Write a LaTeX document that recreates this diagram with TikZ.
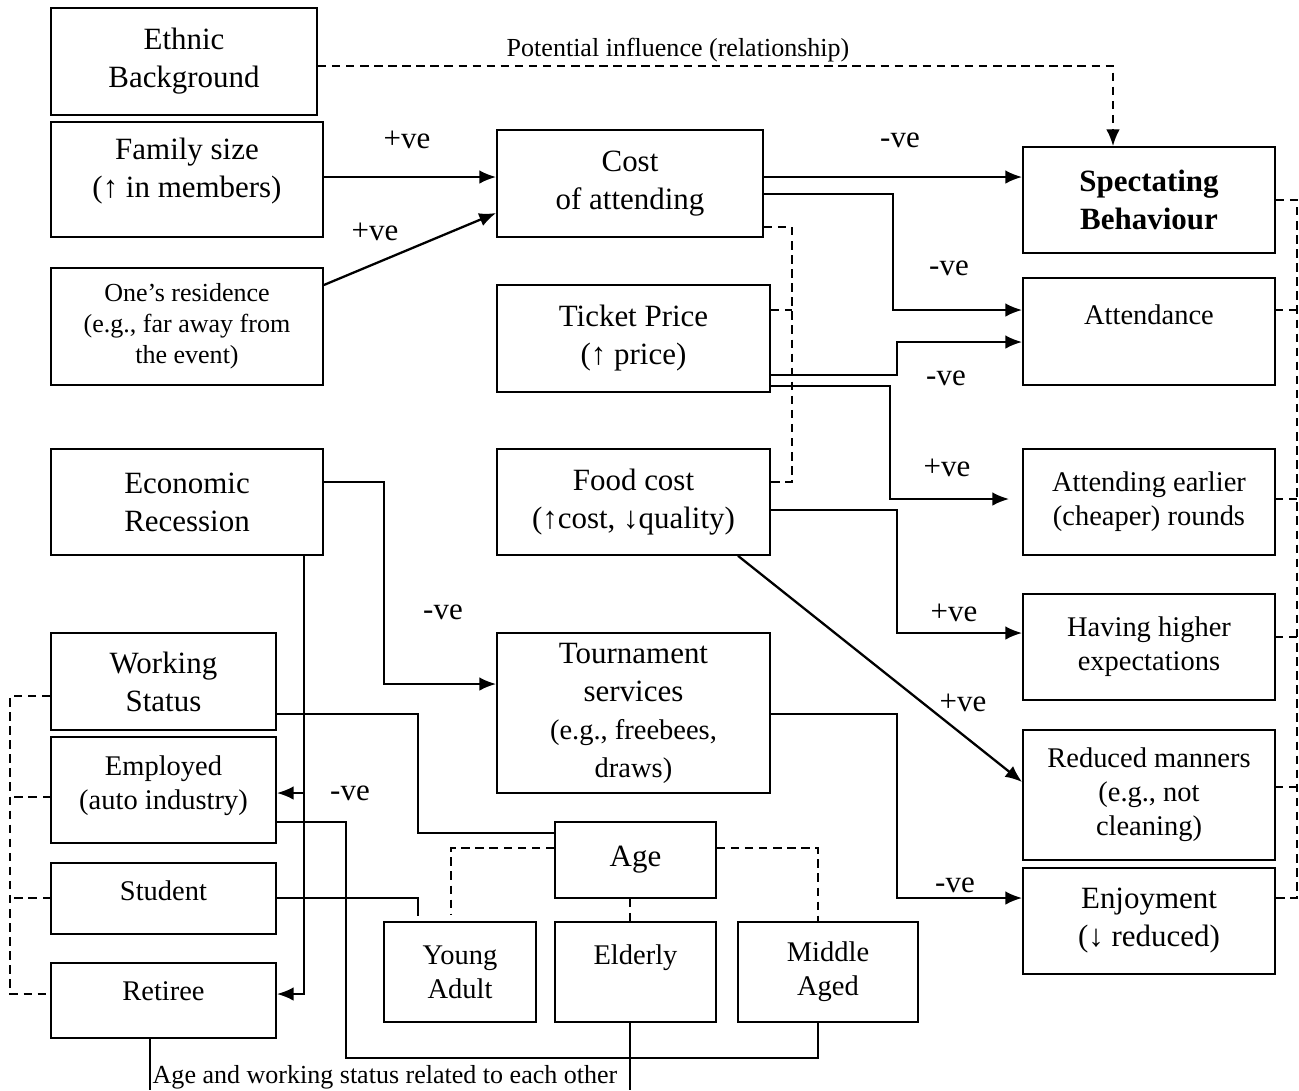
\documentclass[tikz,border=0pt]{standalone}
\usepackage{fontspec}
\setmainfont{Liberation Serif}
\usetikzlibrary{arrows.meta}
\newcommand{\fbig}{\fontsize{8.8}{10.8}\selectfont}
\newcommand{\fmid}{\fontsize{8.1}{9.7}\selectfont}
\newcommand{\fsml}{\fontsize{7.4}{8.8}\selectfont}
\begin{document}
\begin{tikzpicture}[x=0.01cm, y=-0.01cm,
  box/.style={draw, line width=.45pt, align=center, inner sep=1pt},
  tbig/.style={font=\fbig}, tmid/.style={font=\fmid}, tsml/.style={font=\fsml},
  arr/.style={line width=.65pt, -{Latex[length=4.8pt,width=3.9pt]}},
  lnk/.style={line width=.4pt},
  dsh/.style={line width=.55pt, dash pattern=on 2.4pt off 1.6pt},
  sgn/.style={font=\fbig, inner sep=0pt}]
\useasboundingbox (0,0) rectangle (1299,1090);
% left column
\node[box,tbig,minimum width=2.66cm,minimum height=1.07cm] (eth) at (184,61.5) {Ethnic\\Background};
\node[box,tbig,minimum width=2.72cm,minimum height=1.15cm,text depth=6.5pt] (fam) at (187,179.5) {Family size\\(↑ in members)};
\node[box,tsml,minimum width=2.72cm,minimum height=1.17cm] (res) at (187,326.5) {One’s residence\\(e.g., far away from\\the event)};
\node[box,tbig,minimum width=2.72cm,minimum height=1.06cm] (eco) at (187,502) {Economic\\Recession};
\node[box,tbig,minimum width=2.25cm,minimum height=.97cm] (work) at (163.5,681.5) {Working\\Status};
\node[box,tmid,minimum width=2.25cm,minimum height=1.06cm,text depth=4pt] (emp) at (163.5,790) {Employed\\(auto industry)};
\node[box,tmid,minimum width=2.25cm,minimum height=.71cm,text depth=4.5pt] (stu) at (163.5,898.5) {Student};
\node[box,tmid,minimum width=2.25cm,minimum height=.75cm,text depth=5.5pt] (ret) at (163.5,1000.5) {Retiree};
% middle column
\node[box,tbig,minimum width=2.66cm,minimum height=1.07cm] (cost) at (630,183.5) {Cost\\of attending};
\node[box,tbig,minimum width=2.73cm,minimum height=1.07cm] (tick) at (633.5,338.5) {Ticket Price\\(↑ price)};
\node[box,tbig,minimum width=2.73cm,minimum height=1.06cm] (food) at (633.5,502) {Food cost\\(↑cost, ↓quality)};
\node[box,tbig,minimum width=2.73cm,minimum height=1.6cm] (tour) at (633.5,713) {Tournament\\services\\{\fmid (e.g., freebees,}\\{\fmid draws)}};
\node[box,tbig,minimum width=1.61cm,minimum height=.76cm] (age) at (635.5,860) {Age};
\node[box,tmid,minimum width=1.52cm,minimum height=1cm] (young) at (460,972) {Young\\Adult};
\node[box,tmid,minimum width=1.61cm,minimum height=1cm] (eld) at (635.5,972) {Elderly\\~};
\node[box,tmid,minimum width=1.8cm,minimum height=1cm] (mid) at (828,972) {Middle\\Aged};
% right column
\node[box,font=\fbig\bfseries,minimum width=2.52cm,minimum height=1.06cm] (spec) at (1149,200) {Spectating\\Behaviour};
\node[box,tmid,minimum width=2.52cm,minimum height=1.07cm] (att) at (1149,331.5) {Attendance\\~};
\node[box,tmid,minimum width=2.52cm,minimum height=1.06cm] (early) at (1149,502) {Attending earlier\\(cheaper) rounds};
\node[box,tmid,minimum width=2.52cm,minimum height=1.06cm] (expect) at (1149,647) {Having higher\\expectations};
\node[box,tmid,minimum width=2.52cm,minimum height=1.3cm] (manner) at (1149,795) {Reduced manners\\(e.g., not\\cleaning)};
\node[box,tbig,minimum width=2.52cm,minimum height=1.06cm] (enjoy) at (1149,921) {Enjoyment\\(↓ reduced)};
% signs
\node[sgn] (s1) at (407,140) {+ve};
\node[sgn] (s2) at (375,232) {+ve};
\node[sgn] (s3) at (900,140) {-ve};
\node[sgn] (s4) at (949,268) {-ve};
\node[sgn] (s5) at (946,378) {-ve};
\node[sgn] (s6) at (947,468) {+ve};
\node[sgn] (s7) at (954,613) {+ve};
\node[sgn] (s8) at (963,703) {+ve};
\node[sgn] (s9) at (955,885) {-ve};
\node[sgn] (s10) at (443,612) {-ve};
\node[sgn] (s11) at (350,793) {-ve};
\node[tsml] (pot) at (678,50) {Potential influence (relationship)};
\node[tsml,anchor=base west,inner sep=0pt] (note) at (152,1083) {Age and working status related to each other};
% influences
\draw[dsh,arr] (eth.east |- 0,66) -| (spec.north -| 1113,0);
\draw[arr] (fam.east |- 0,177) -- (cost.west |- 0,177);
\draw[arr] (res.east |- 0,285) -- (cost.west |- 0,213);
\draw[arr] (cost.east |- 0,177) -- (spec.west |- 0,177);
\draw[arr] (cost.east |- 0,194) -| (893,310) -- (att.west |- 0,310);
\draw[arr] (tick.east |- 0,375) -| (897,342) -- (att.west |- 0,342);
\draw[arr, shorten >=1.3mm] (tick.east |- 0,386) -| (890,499) -- (early.west |- 0,499);
\draw[arr] (food.east |- 0,510) -| (897,633) -- (expect.west |- 0,633);
\draw[arr] (food.south -| 738,0) -- (manner.west |- 0,782);
\draw[arr] (tour.east |- 0,714) -| (897,898) -- (enjoy.west |- 0,898);
\draw[arr] (eco.east |- 0,482) -| (384,684) -- (tour.west |- 0,684);
\draw[arr] (eco.south -| 304,0) |- (ret.east |- 0,994);
\draw[arr] (304,793) -- (emp.east |- 0,793);
% cost parts
\draw[dsh] (cost.east |- 0,227) -| (792,482) -- (food.east |- 0,482);
\draw[dsh] (tick.east |- 0,310) -- (792,310);
% age and working status
\draw[lnk] (work.east |- 0,714) -| (418,833) -- (age.west |- 0,833);
\draw[lnk] (emp.east |- 0,822) -| (346,1058) -| (mid.south -| 818,0);
\draw[lnk] (stu.east |- 0,898) -| (418,916);
\draw[lnk] (ret.south -| 150,0) -- (150,1090);
\draw[lnk] (eld.south -| 630,0) -- (630,1090);
\draw[dsh] (age.west |- 0,848) -| (451,914);
\draw[dsh] (age.east |- 0,848) -| (mid.north -| 818,0);
\draw[dsh] (age.south -| 630,0) -- (eld.north -| 630,0);
% brackets
\draw[dsh] (work.west |- 0,696) -| (10,994) -- (ret.west |- 0,994);
\foreach \y in {797,898}
\draw[dsh] (51,\y) -- (10,\y);
\draw[dsh] (spec.east |- 0,200) -| (1297,898) -- (enjoy.east |- 0,898);
\foreach \y in {310,499,637,787}
\draw[dsh] (1275,\y) -- (1297,\y);
\end{tikzpicture}
\end{document}
